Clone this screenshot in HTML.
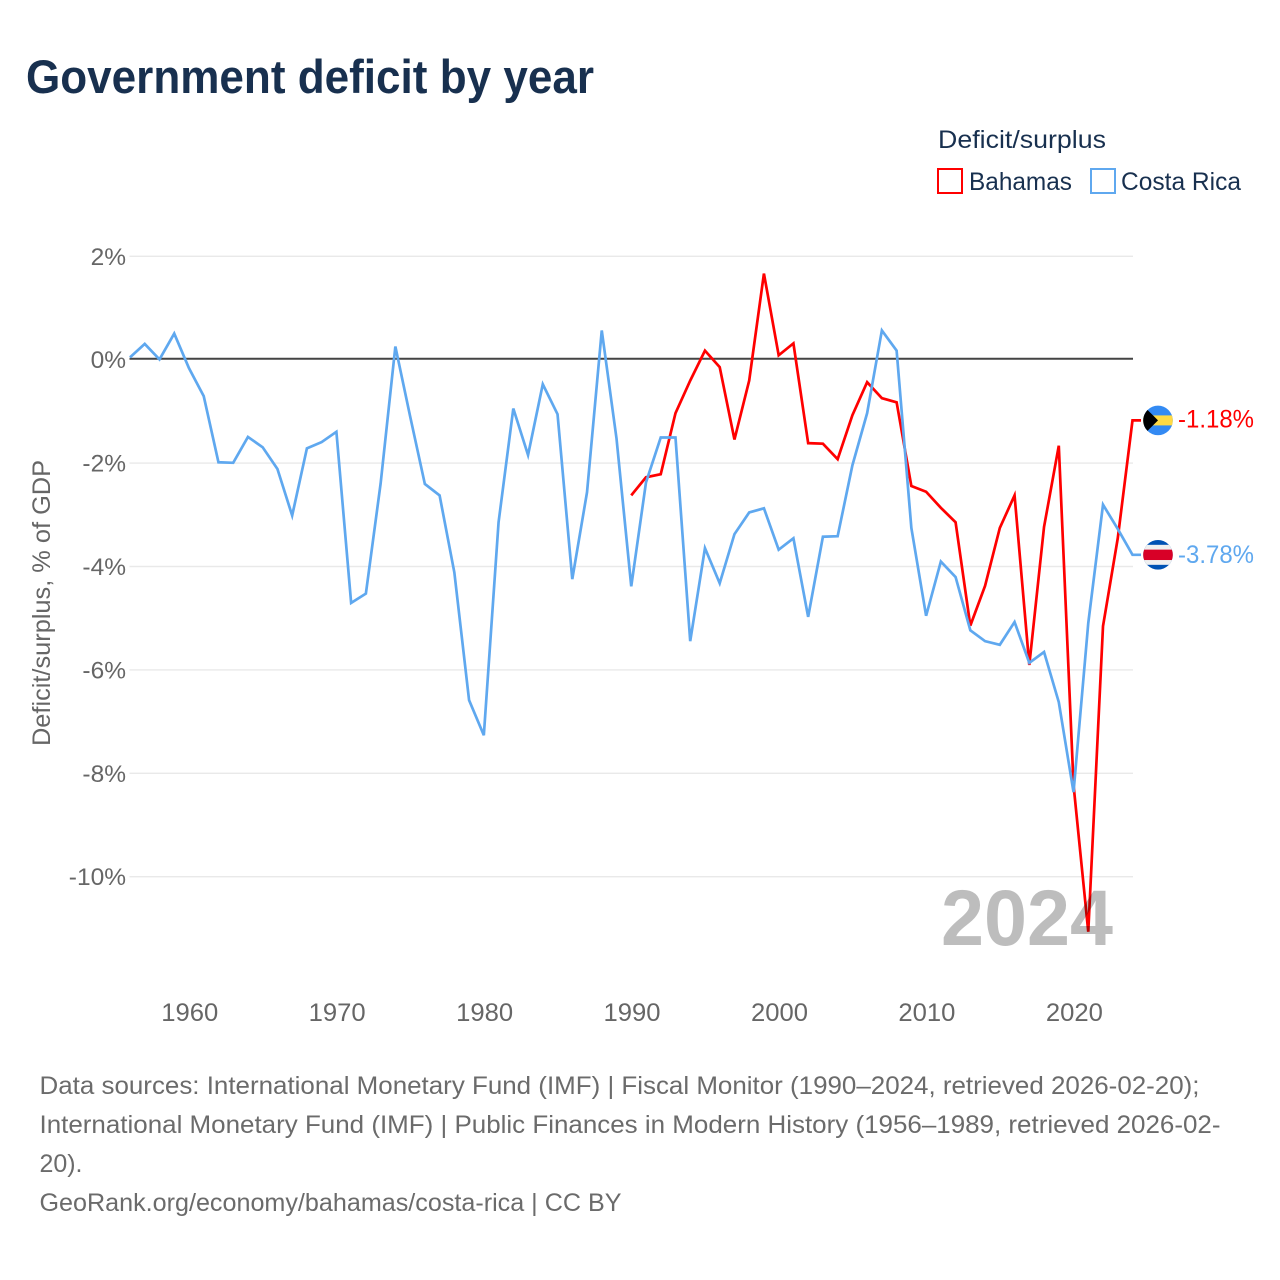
<!DOCTYPE html>
<html lang="en">
<head>
<meta charset="utf-8">
<title>Government deficit by year</title>
<style>
  html, body { margin: 0; padding: 0; background: #ffffff; }
  svg { display: block; font-family: "Liberation Sans", sans-serif; }
</style>
</head>
<body>
<svg id="chart" width="1280" height="1280" viewBox="0 0 1280 1280" xmlns="http://www.w3.org/2000/svg">
  <defs>
    <clipPath id="flag-clip"><circle cx="0" cy="0" r="14.8"></circle></clipPath>
  </defs>
  <rect x="0" y="0" width="1280" height="1280" fill="#ffffff"></rect>
  <text x="26" y="93" font-size="47" font-weight="700" fill="#18304f" textLength="568" lengthAdjust="spacingAndGlyphs">Government deficit by year</text>

  <g>
    <text x="938" y="148" font-size="25" fill="#18304f" textLength="168" lengthAdjust="spacingAndGlyphs">Deficit/surplus</text>
    <rect x="938" y="169" width="24" height="24" fill="none" stroke="#ff0000" stroke-width="2"></rect>
    <text x="969" y="190" font-size="25" fill="#18304f" textLength="103" lengthAdjust="spacingAndGlyphs">Bahamas</text>
    <rect x="1091" y="169" width="24" height="24" fill="none" stroke="#5fa8ef" stroke-width="2"></rect>
    <text x="1121" y="190" font-size="25" fill="#18304f" textLength="120" lengthAdjust="spacingAndGlyphs">Costa Rica</text>
  </g>

  <g id="grid"></g>
  <g id="y-ticks"></g>
  <g id="x-ticks"></g>
  <text transform="translate(50,603) rotate(-90)" text-anchor="middle" font-size="25" fill="#666666" textLength="286" lengthAdjust="spacingAndGlyphs">Deficit/surplus, % of GDP</text>

  <g id="series"></g>
  <g id="end-labels"></g>

  <text x="941" y="945" font-size="79" font-weight="700" fill="#000000" fill-opacity="0.26" textLength="172" lengthAdjust="spacingAndGlyphs">2024</text>

  <g font-size="25" fill="#6b6b6b">
    <text x="39.5" y="1094" textLength="1160" lengthAdjust="spacingAndGlyphs">Data sources: International Monetary Fund (IMF) | Fiscal Monitor (1990–2024, retrieved 2026-02-20);</text>
    <text x="39.5" y="1133" textLength="1181" lengthAdjust="spacingAndGlyphs">International Monetary Fund (IMF) | Public Finances in Modern History (1956–1989, retrieved 2026-02-</text>
    <text x="39.5" y="1172" textLength="43" lengthAdjust="spacingAndGlyphs">20).</text>
    <text x="39.5" y="1211" textLength="582" lengthAdjust="spacingAndGlyphs">GeoRank.org/economy/bahamas/costa-rica | CC BY</text>
  </g>
</svg>
<script>
const yTickValues = [2, 0, -2, -4, -6, -8, -10];
const yTickLabels = ["2%", "0%", "-2%", "-4%", "-6%", "-8%", "-10%"];
const xTickYears = [1960, 1970, 1980, 1990, 2000, 2010, 2020];
const xTickLabels = ["1960", "1970", "1980", "1990", "2000", "2010", "2020"];

const costaRicaFirstYear = 1956;
const costaRicaValues = [
  0.04, 0.30, 0.00, 0.50, -0.17, -0.71, -1.99, -2.00, -1.50, -1.70,
  -2.12, -3.02, -1.72, -1.60, -1.40, -4.71, -4.53, -2.40, 0.25, -1.10,
  -2.41, -2.63, -4.12, -6.59, -7.27, -3.15, -0.95, -1.85, -0.48, -1.06,
  -4.25, -2.57, 0.56, -1.53, -4.39, -2.38, -1.51, -1.51, -5.45, -3.65,
  -4.33, -3.38, -2.96, -2.88, -3.68, -3.46, -4.98, -3.43, -3.42, -2.05,
  -1.04, 0.56, 0.17, -3.26, -4.96, -3.91, -4.21, -5.24, -5.45, -5.52,
  -5.08, -5.87, -5.66, -6.63, -8.37, -5.10, -2.81, -3.28, -3.78
];

const bahamasFirstYear = 1990;
const bahamasValues = [
  -2.63, -2.28, -2.22, -1.04, -0.41, 0.17, -0.15, -1.55, -0.41, 1.66,
  0.08, 0.31, -1.62, -1.63, -1.93, -1.08, -0.44, -0.75, -0.83, -2.45,
  -2.56, -2.87, -3.15, -5.15, -4.38, -3.26, -2.63, -5.91, -3.24, -1.67,
  -8.23, -11.07, -5.16, -3.46, -1.18
];

const svgNS = "http://www.w3.org/2000/svg";
const plotLeft = 130;
const plotRight = 1132.5;
const xAt = function (year) { return plotLeft + (year - 1956) * (plotRight - plotLeft) / 68; };
const yAt = function (value) { return 359.4 - value * 51.7; };

function make(tag, parent, attrs, textValue) {
  const el = document.createElementNS(svgNS, tag);
  Object.keys(attrs).forEach(function (k) { el.setAttribute(k, attrs[k]); });
  if (textValue !== undefined) { el.textContent = textValue; }
  parent.appendChild(el);
  return el;
}

const gridGroup = document.getElementById("grid");
const yTickGroup = document.getElementById("y-ticks");
yTickValues.forEach(function (v, i) {
  const isZero = v === 0;
  const lineY = isZero ? yAt(v) - 0.6 : yAt(v) + 0.3;
  const line = make("line", gridGroup, {
    x1: 129.5, x2: 1133, y1: lineY, y2: lineY,
    stroke: isZero ? "#444444" : "#e9e9e9",
    "stroke-width": isZero ? 2 : 1.4
  });
  
  
  const label = make("text", yTickGroup, {
    x: 126, y: yAt(v) + 8.8, "text-anchor": "end", "font-size": 24.5, fill: "#666666"
  }, yTickLabels[i]);
  
  
});

const xTickGroup = document.getElementById("x-ticks");
xTickYears.forEach(function (year, i) {
  const label = make("text", xTickGroup, {
    x: xAt(year) + 0.8, y: 1021, "text-anchor": "middle", "font-size": 25, fill: "#666666",
    textLength: 57, lengthAdjust: "spacingAndGlyphs"
  }, xTickLabels[i]);
  
  
});

function pathFor(firstYear, values) {
  return values.map(function (v, i) {
    return (i === 0 ? "M" : "L") + xAt(firstYear + i).toFixed(2) + " " + yAt(v).toFixed(2);
  }).join(" ");
}

const flagX = 1158;
const stubEndX = 1141;

const seriesGroup = document.getElementById("series");
const bahamasLast = bahamasValues[bahamasValues.length - 1];
const costaRicaLast = costaRicaValues[costaRicaValues.length - 1];

const bahamasLine = make("path", seriesGroup, {
  d: pathFor(bahamasFirstYear, bahamasValues) + " L" + stubEndX + " " + yAt(bahamasLast).toFixed(2),
  fill: "none", stroke: "#ff0000", "stroke-width": 2.7, "stroke-linejoin": "miter"
});


const costaRicaLine = make("path", seriesGroup, {
  d: pathFor(costaRicaFirstYear, costaRicaValues) + " L" + stubEndX + " " + yAt(costaRicaLast).toFixed(2),
  fill: "none", stroke: "#5fa8ef", "stroke-width": 2.7, "stroke-linejoin": "miter"
});



const endGroup = document.getElementById("end-labels");

const bahamasFlag = make("g", endGroup, {
  transform: "translate(" + flagX + "," + yAt(bahamasLast) + ")", "clip-path": "url(#flag-clip)"
});


make("rect", bahamasFlag, { x: -15, y: -15, width: 30, height: 30, fill: "#338af3" });
make("rect", bahamasFlag, { x: -15, y: -5, width: 30, height: 10, fill: "#ffda44" });
make("path", bahamasFlag, { d: "M-15 -15 L0 0 L-15 15 Z", fill: "#000000" });

const bahamasLabel = make("text", endGroup, {
  x: 1178, y: yAt(bahamasLast) + 7, "font-size": 25, fill: "#ff0000",
  textLength: 76, lengthAdjust: "spacingAndGlyphs"
}, bahamasLast.toFixed(2) + "%");



const costaRicaFlag = make("g", endGroup, {
  transform: "translate(" + flagX + "," + yAt(costaRicaLast) + ")", "clip-path": "url(#flag-clip)"
});


make("rect", costaRicaFlag, { x: -15, y: -15, width: 30, height: 30, fill: "#0052b4" });
make("rect", costaRicaFlag, { x: -15, y: -10, width: 30, height: 20, fill: "#f0f0f0" });
make("rect", costaRicaFlag, { x: -15, y: -5.2, width: 30, height: 10.4, fill: "#d80027" });

const costaRicaLabel = make("text", endGroup, {
  x: 1178, y: yAt(costaRicaLast) + 8, "font-size": 25, fill: "#5fa8ef",
  textLength: 76, lengthAdjust: "spacingAndGlyphs"
}, costaRicaLast.toFixed(2) + "%");


</script>
</body>
</html>
